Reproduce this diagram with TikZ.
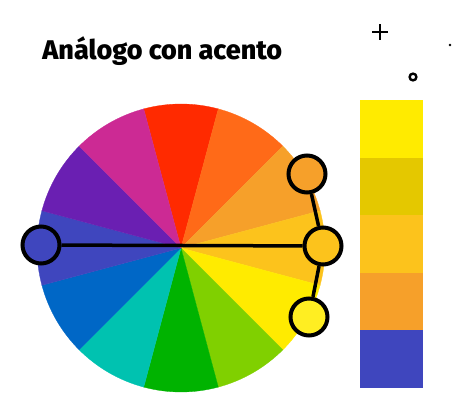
\documentclass[tikz,border=0pt]{standalone}
\usepackage{fontspec}
\setmainfont{Fira Sans}[BoldFont={Fira Sans ExtraBold}]
\usepackage{tikz}
\definecolor{wred}{HTML}{FF2A00}
\definecolor{wredorange}{HTML}{FF6A18}
\definecolor{worange}{HTML}{F6A02A}
\definecolor{wgold}{HTML}{FCC31C}
\definecolor{wyellow}{HTML}{FFEB00}
\definecolor{wlime}{HTML}{80D000}
\definecolor{wgreen}{HTML}{00B300}
\definecolor{wteal}{HTML}{00C2B0}
\definecolor{wblue}{HTML}{0067C6}
\definecolor{windigo}{HTML}{3F46BE}
\definecolor{wviolet}{HTML}{6A1FB2}
\definecolor{wmagenta}{HTML}{CC2A94}
\definecolor{polive}{HTML}{E4C800}
\definecolor{nyellow}{HTML}{FFEE22}

\begin{document}
\begin{tikzpicture}[x=1pt,y=1pt,
  thick,main node/.style={circle,draw,line width=4pt,minimum size=37pt,inner sep=0pt}]
  \useasboundingbox (0,0) rectangle (474,415);

  % colour wheel
  \coordinate (c) at (181,167);
  \foreach \a/\col in {90/wred,60/wredorange,30/worange,0/wgold,-30/wyellow,-60/wlime,
      -90/wgreen,-120/wteal,-150/wblue,180/windigo,150/wviolet,120/wmagenta}
    \filldraw[\col,line width=0.3pt] (c) -- ++(\a-15:144)
      arc[start angle=\a-15,end angle=\a+15,radius=144] -- cycle;

  \node[anchor=base west,inner sep=0pt,font=\bfseries\fontsize{27}{27}\selectfont]
    (title) at (42,355) {Análogo con acento};

  \node[main node,fill=windigo] (1) at (41,170) {};
  \node[main node,fill=worange] (2) at (307,241) {};
  \node[main node,fill=wgold] (3) at (323,169) {};
  \node[main node,fill=nyellow] (4) at (309,98) {};

  \path[line width=3.5pt]
    (1) edge[] node[] {} (3)
    (2) edge[] node[] {} (3)
    (3) edge[] node[] {} (4);

  % palette
  \foreach \i/\col in {0/wyellow,1/polive,2/wgold,3/worange,4/windigo}
    \fill[\col] (360,315-57.6*\i) rectangle (423,315-57.6*\i-57.6);

  % sparkles
  \draw[line width=2.6pt] (380,375) -- (380,391) (372,383) -- (388,383);
  \fill (450,370) circle (1.3);
  \draw[line width=2.4pt] (413,338) circle (3.4);
\end{tikzpicture}
\end{document}
